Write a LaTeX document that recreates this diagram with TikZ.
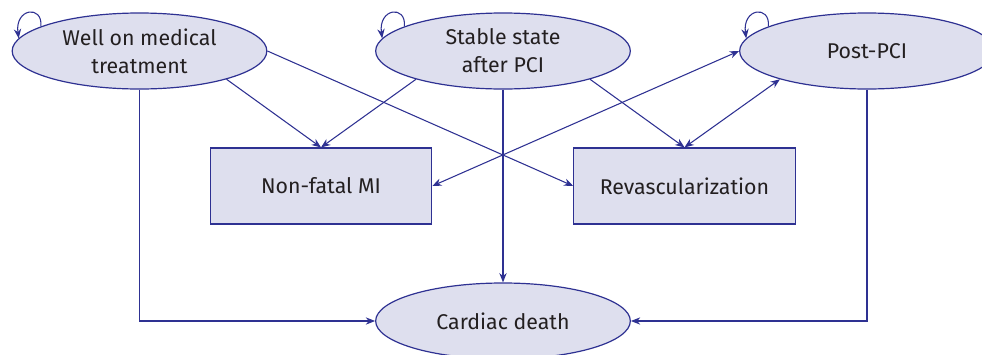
\documentclass[tikz,border=0pt]{standalone}
\usepackage{fontspec}
\setmainfont{Fira Sans}
\usetikzlibrary{arrows.meta,shapes.geometric}
\definecolor{navy}{RGB}{46,49,146}
\definecolor{lav}{RGB}{222,223,238}
\definecolor{ink}{RGB}{35,31,32}

\begin{document}
\begin{tikzpicture}[x=.75pt,y=-.75pt,
  every node/.style={font=\fontsize{16}{21}\selectfont,text=ink},
  state/.style={ellipse,draw=navy,fill=lav,line width=.9pt,minimum width=191pt,minimum height=57pt,inner sep=0pt,align=center},
  event/.style={rectangle,draw=navy,fill=lav,line width=.9pt,minimum width=166pt,minimum height=57pt,align=center},
  arr/.style={-{Stealth[length=7pt,width=5.5pt]},draw=navy,line width=.8pt},
  both/.style={{Stealth[length=7pt,width=5.5pt]}-{Stealth[length=7pt,width=5.5pt]},draw=navy,line width=.8pt}]
\useasboundingbox (0,0) rectangle (982,354);
% states
\node[state] (well) at (139.5,51) {Well on medical\\treatment};
\node[state] (stable) at (503,51) {Stable state\\after PCI};
\node[state] (post) at (867,51) {Post-PCI};
\node[state] (death) at (503,321) {Cardiac death};
% events
\node[event] (mi) at (321,186) {Non-fatal MI};
\node[event] (revasc) at (684.5,186) {Revascularization};
% self loops
\draw[arr] (well.166) .. controls +(2,-22) and +(-4,-30) .. (well.174);
\draw[arr] (stable.166) .. controls +(2,-22) and +(-4,-30) .. (stable.174);
\draw[arr] (post.166) .. controls +(2,-22) and +(-4,-30) .. (post.174);
% transitions
\draw[arr] (well.-18) -- (mi.north);
\draw[arr] (stable.198) -- (mi.north);
\draw[arr] (stable.-18) -- (revasc.north);
\draw[both] (revasc.north) -- (post.198);
\draw[arr] (well.east) -- (revasc.west);
\draw[both] (mi.east) -- (post.west);
\draw[arr] (stable.south) -- (death.north);
\draw[arr] (well.south) |- (death.west);
\draw[arr] (post.south) |- (death.east);
\end{tikzpicture}
\end{document}
